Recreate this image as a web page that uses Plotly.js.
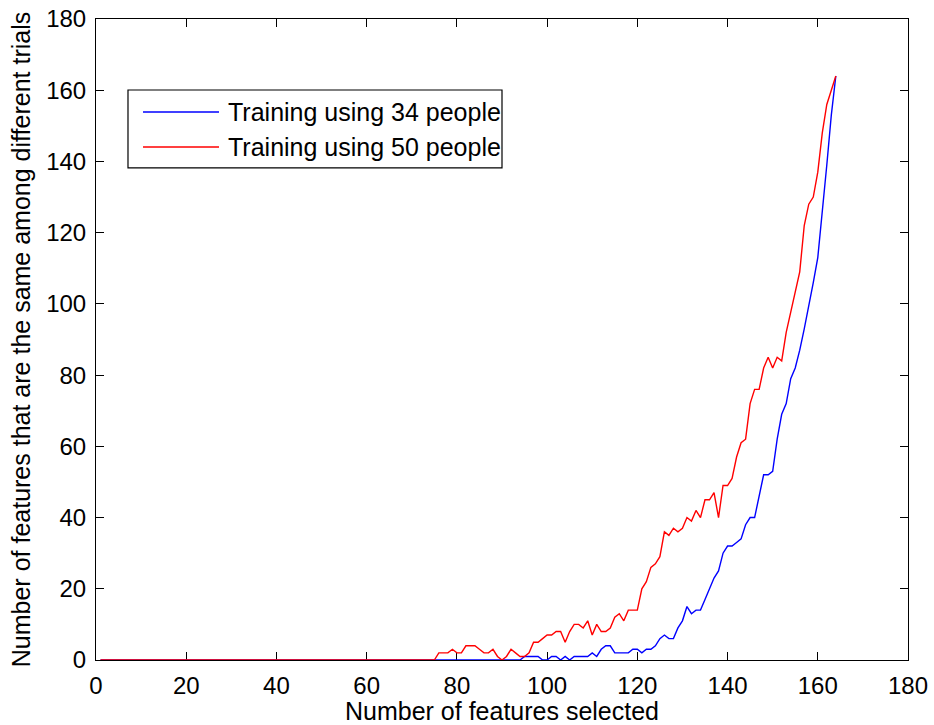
<!DOCTYPE html>
<html>
<head>
<meta charset="utf-8">
<script src="https://cdn.plot.ly/plotly-3.0.1.min.js"></script>
<style>
  html, body { margin: 0; padding: 0; background: #ffffff; }
  #chart { width: 934px; height: 725px; }
</style>
</head>
<body>
<div id="chart"></div>
<script>
// Number of features selected (x positions of both curves)
const featuresSelected = [
  1, 2, 3, 4, 5, 6, 7, 8, 9, 10, 11, 12, 13, 14, 15, 16, 17, 18, 19, 20,
  21, 22, 23, 24, 25, 26, 27, 28, 29, 30, 31, 32, 33, 34, 35, 36, 37, 38, 39, 40,
  41, 42, 43, 44, 45, 46, 47, 48, 49, 50, 51, 52, 53, 54, 55, 56, 57, 58, 59, 60,
  61, 62, 63, 64, 65, 66, 67, 68, 69, 70, 71, 72, 73, 74, 75, 76, 77, 78, 79, 80,
  81, 82, 83, 84, 85, 86, 87, 88, 89, 90, 91, 92, 93, 94, 95, 96, 97, 98, 99, 100,
  101, 102, 103, 104, 105, 106, 107, 108, 109, 110, 111, 112, 113, 114, 115, 116, 117, 118, 119, 120,
  121, 122, 123, 124, 125, 126, 127, 128, 129, 130, 131, 132, 133, 134, 135, 136, 137, 138, 139, 140,
  141, 142, 143, 144, 145, 146, 147, 148, 149, 150, 151, 152, 153, 154, 155, 156, 157, 158, 159, 160,
  161, 162, 163, 164
];

// Features common to all trials, training with 34 people
const common34 = [
  0, 0, 0, 0, 0, 0, 0, 0, 0, 0, 0, 0, 0, 0, 0, 0, 0, 0, 0, 0,
  0, 0, 0, 0, 0, 0, 0, 0, 0, 0, 0, 0, 0, 0, 0, 0, 0, 0, 0, 0,
  0, 0, 0, 0, 0, 0, 0, 0, 0, 0, 0, 0, 0, 0, 0, 0, 0, 0, 0, 0,
  0, 0, 0, 0, 0, 0, 0, 0, 0, 0, 0, 0, 0, 0, 0, 0, 0, 0, 0, 0,
  0, 0, 0, 0, 0, 0, 0, 0, 0, 0, 0, 0, 0, 0, 1, 1, 1, 1, 0, 0,
  1, 1, 0, 1, 0, 1, 1, 1, 1, 2, 1, 3, 4, 4, 2, 2, 2, 2, 3, 3,
  2, 3, 3, 4, 6, 7, 6, 6, 9, 11, 15, 13, 14, 14, 17, 20, 23, 25, 30, 32,
  32, 33, 34, 38, 40, 40, 46, 52, 52, 53, 62, 69, 72, 79, 82, 87, 93, 99, 106, 113,
  125, 139, 153, 164
];

// Features common to all trials, training with 50 people
const common50 = [
  0, 0, 0, 0, 0, 0, 0, 0, 0, 0, 0, 0, 0, 0, 0, 0, 0, 0, 0, 0,
  0, 0, 0, 0, 0, 0, 0, 0, 0, 0, 0, 0, 0, 0, 0, 0, 0, 0, 0, 0,
  0, 0, 0, 0, 0, 0, 0, 0, 0, 0, 0, 0, 0, 0, 0, 0, 0, 0, 0, 0,
  0, 0, 0, 0, 0, 0, 0, 0, 0, 0, 0, 0, 0, 0, 0, 2, 2, 2, 3, 2,
  2, 4, 4, 4, 3, 2, 2, 3, 1, 0, 1, 3, 2, 1, 1, 2, 5, 5, 6, 7,
  7, 8, 8, 5, 8, 10, 10, 9, 11, 7, 10, 8, 8, 9, 12, 13, 11, 14, 14, 14,
  20, 22, 26, 27, 29, 36, 35, 37, 36, 37, 40, 39, 42, 40, 45, 45, 47, 40, 49, 49,
  51, 57, 61, 62, 72, 76, 76, 82, 85, 82, 85, 84, 92, 98, 104, 109, 122, 128, 130, 137,
  148, 156, 160, 164
];

const seriesNames = ['Training using 34 people', 'Training using 50 people'];
const seriesColors = ['#0000ff', '#ff0000'];
const axisTicks = [0, 20, 40, 60, 80, 100, 120, 140, 160, 180];

const FONT = 'Liberation Sans, Arial, Helvetica, sans-serif';
const TEXT_SIZE = 25;
const TICK_SIZE = 24;

const traces = [
  {
    x: featuresSelected, y: common34, type: 'scatter', mode: 'lines',
    name: seriesNames[0], line: { color: seriesColors[0], width: 1.4 }
  },
  {
    x: featuresSelected, y: common50, type: 'scatter', mode: 'lines',
    name: seriesNames[1], line: { color: seriesColors[1], width: 1.4 }
  }
];

const axisCommon = {
  range: [0, 180],
  tickmode: 'array',
  tickvals: axisTicks,
  ticktext: axisTicks.map(String),
  showline: true, linecolor: '#000000', linewidth: 1,
  mirror: 'ticks',
  ticks: 'inside', ticklen: 8, tickwidth: 1, tickcolor: '#000000',
  showgrid: false, zeroline: false,
  tickfont: { family: FONT, size: TICK_SIZE, color: '#000000' },
  layer: 'below traces',
  fixedrange: true
};

// Legend drawn as a framed box with two line samples
const legendBox = { x0: 0.0394, x1: 0.5, y0: 0.7676, y1: 0.8892 };
const legendRows = [0.855, 0.8003];

const shapes = [
  {
    type: 'rect', xref: 'paper', yref: 'paper',
    x0: legendBox.x0, x1: legendBox.x1, y0: legendBox.y0, y1: legendBox.y1,
    line: { color: '#000000', width: 1.2 }, fillcolor: '#ffffff', layer: 'above'
  }
];
const annotations = [];
legendRows.forEach((ry, i) => {
  shapes.push({
    type: 'line', xref: 'paper', yref: 'paper',
    x0: 0.0579, x1: 0.1515, y0: ry, y1: ry,
    line: { color: seriesColors[i], width: 1.4 }, layer: 'above'
  });
  annotations.push({
    xref: 'paper', yref: 'paper', x: 0.1600, y: ry,
    xanchor: 'left', yanchor: 'middle', showarrow: false,
    text: seriesNames[i],
    font: { family: FONT, size: TEXT_SIZE, color: '#000000' }
  });
});

const layout = {
  width: 934, height: 725,
  margin: { l: 96, r: 26, t: 19, b: 65, pad: 0 },
  paper_bgcolor: '#ffffff', plot_bgcolor: '#ffffff',
  font: { family: FONT, size: TEXT_SIZE, color: '#000000' },
  showlegend: false,
  xaxis: Object.assign({}, axisCommon, {
    ticklabelstandoff: 4,
    title: { text: 'Number of features selected', font: { family: FONT, size: TEXT_SIZE, color: '#000000' }, standoff: 1 }
  }),
  yaxis: Object.assign({}, axisCommon, {
    ticklabelstandoff: 4,
    title: { text: 'Number of features that are the same among different trials', font: { family: FONT, size: TEXT_SIZE, color: '#000000' }, standoff: 8 }
  }),
  shapes: shapes,
  annotations: annotations
};

Plotly.newPlot('chart', traces, layout, { staticPlot: true, displayModeBar: false });
</script>
</body>
</html>
